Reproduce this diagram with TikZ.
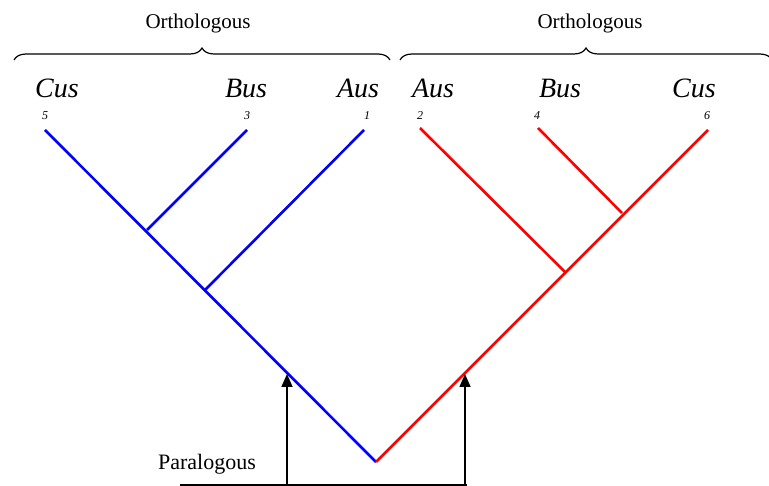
\documentclass[tikz,border=0pt]{standalone}
\usepackage{fontspec}
\setmainfont{Liberation Serif}
\usetikzlibrary{decorations.pathreplacing,arrows.meta}
\begin{document}
\begin{tikzpicture}[x=1pt,y=-1pt,
  blueline/.style={draw={rgb,255:red,0;green,0;blue,255},line width=2.6pt},
  redline/.style={draw={rgb,255:red,255;green,0;blue,0},line width=2.6pt},
  taxon/.style={font=\fontsize{28}{28}\selectfont\itshape,inner sep=0pt},
  num/.style={font=\fontsize{12}{12}\selectfont\itshape,inner sep=0pt},
  title/.style={font=\fontsize{21}{21}\selectfont,inner sep=0pt},
  bracestyle/.style={draw,line width=1.2pt,decorate,decoration={brace,amplitude=12pt,aspect=0.5}},
  arrowstyle/.style={draw,line width=1.6pt,-{Triangle[length=13pt,width=11pt]}}]
\useasboundingbox (0,0) rectangle (769,486);
% nodes of tree
\coordinate (root) at (376,462);
\coordinate (b5) at (45,130);
\coordinate (b3) at (247,130);
\coordinate (b1) at (364,130);
\coordinate (bi1) at (147,230);
\coordinate (bi2) at (205,290);
\coordinate (r2) at (420,128);
\coordinate (r4) at (538,128);
\coordinate (r6) at (708,130);
\coordinate (ri1) at (622,213);
\coordinate (ri2) at (565,272);
% blue subtree
\draw[blueline] (root) -- (b5);
\draw[blueline] (bi1) -- (b3);
\draw[blueline] (bi2) -- (b1);
% red subtree
\draw[redline] (root) -- (r6);
\draw[redline] (ri1) -- (r4);
\draw[redline] (ri2) -- (r2);
% labels
\node[taxon] (t5) at (57,88) {Cus};
\node[taxon] (t3) at (246,88) {Bus};
\node[taxon] (t1) at (358,88) {Aus};
\node[taxon] (t2) at (433,88) {Aus};
\node[taxon] (t4) at (560,88) {Bus};
\node[taxon] (t6) at (694,88) {Cus};
\node[num] (n5) at (45,116) {5};
\node[num] (n3) at (247,116) {3};
\node[num] (n1) at (367,116) {1};
\node[num] (n2) at (420,116) {2};
\node[num] (n4) at (537,116) {4};
\node[num] (n6) at (707,116) {6};
% braces
\coordinate (lb1) at (14,60);
\coordinate (lb2) at (390,60);
\coordinate (rb1) at (400,60);
\coordinate (rb2) at (772,60);
\draw[bracestyle] (lb1) -- (lb2);
\draw[bracestyle] (rb1) -- (rb2);
\node[title] (o1) at (198,23) {Orthologous};
\node[title] (o2) at (590,23) {Orthologous};
% paralogous
\node[title,font=\fontsize{22}{22}\selectfont] (para) at (207,464) {Paralogous};
\coordinate (base1) at (180,485);
\coordinate (base2) at (467,485);
\coordinate (a1s) at (287,485);
\coordinate (a1e) at (287,374);
\coordinate (a2s) at (465,485);
\coordinate (a2e) at (465,374);
\draw[line width=1.6pt] (base1) -- (base2);
\draw[arrowstyle] (a1s) -- (a1e);
\draw[arrowstyle] (a2s) -- (a2e);
\end{tikzpicture}
\end{document}
